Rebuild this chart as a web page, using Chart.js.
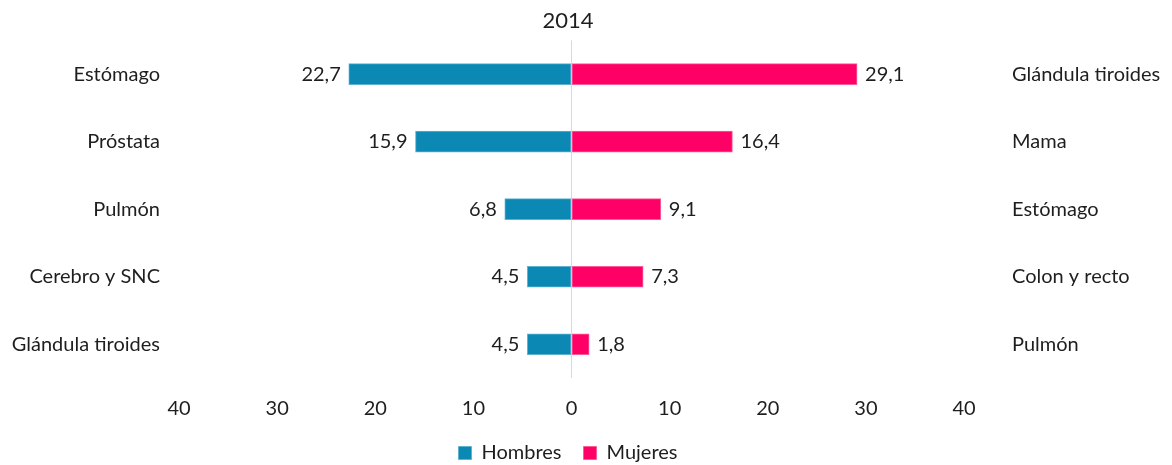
<!DOCTYPE html>
<html>
<head>
<meta charset="utf-8">
<script src="https://cdn.jsdelivr.net/npm/chart.js@4/dist/chart.umd.min.js"></script>
<style>
	html, body { margin: 0; padding: 0; background: #fff; }
	#wrapper { width: 1172px; height: 465px; }
</style>
</head>
<body>
<div id="wrapper"><canvas id="chart-cancer"></canvas></div>
<script>
const lsLabelHombres = ["Estómago", "Próstata", "Pulmón", "Cerebro y SNC", "Glándula tiroides"];
const lsLabelMujeres = ["Glándula tiroides", "Mama", "Estómago", "Colon y recto", "Pulmón"];
const lsHombres = [22.7, 15.9, 6.8, 4.5, 4.5];
const lsMujeres = [29.1, 16.4, 9.1, 7.3, 1.8];
const lsTicks = [-40, -30, -20, -10, 0, 10, 20, 30, 40];

const colorHombres = "#0b88b3";
const colorMujeres = "#ff0066";
const textColor = "#1e1e1e";
const fontFamily = "Lato, 'Noto Sans', sans-serif";

Chart.defaults.font.family = fontFamily;
Chart.defaults.color = textColor;

// value labels at the end of each bar
const valueLabels = {
	id: "valueLabels",
	afterDatasetsDraw(chart) {
		let ctx = chart.ctx;
		ctx.save();
		ctx.font = "20px " + fontFamily;
		ctx.fillStyle = textColor;
		ctx.textBaseline = "middle";
		chart.data.datasets.forEach((ds, i) => {
			let meta = chart.getDatasetMeta(i);
			meta.data.forEach((bar, idx) => {
				let v = ds.data[idx];
				let txt = Math.abs(v).toFixed(1).replace(".", ",");
				if (v < 0) {
					ctx.textAlign = "right";
					ctx.fillText(txt, bar.x - 8, bar.y);
				} else {
					ctx.textAlign = "left";
					ctx.fillText(txt, bar.x + 8, bar.y);
				}
			});
		});
		ctx.restore();
	},
};

let ctx = document.getElementById("chart-cancer").getContext("2d");

new Chart(ctx, {
	type: "bar",
	data: {
		labels: lsLabelHombres,
		datasets: [
			{
				label: "Hombres",
				data: lsHombres.map((v) => -v),
				backgroundColor: colorHombres,
				borderColor: "#5fb3d1",
				borderWidth: 1,
				borderSkipped: false,
				yAxisID: "y",
				barThickness: 21,
				grouped: false,
			},
			{
				label: "Mujeres",
				data: lsMujeres,
				backgroundColor: colorMujeres,
				borderColor: "#ff5c97",
				borderWidth: 1,
				borderSkipped: false,
				yAxisID: "y2",
				barThickness: 21,
				grouped: false,
			},
		],
	},
	options: {
		indexAxis: "y",
		responsive: true,
		maintainAspectRatio: false,
		animation: false,
		layout: {
			// negative left padding moves title/legend centre over the plot area
			padding: { top: 0, bottom: -8, left: -36, right: 0 },
		},
		scales: {
			x: {
				min: -40,
				max: 40,
				afterBuildTicks: (axis) => {
					axis.ticks = lsTicks.map((v) => ({ value: v }));
				},
				afterFit: (axis) => {
					axis.height = 43;
				},
				grid: {
					drawTicks: false,
					lineWidth: 1,
					color: (c) => (c.tick && c.tick.value === 0 ? "#d9d9d9" : "rgba(0,0,0,0)"),
				},
				border: { display: false },
				ticks: {
					padding: 19,
					font: { size: 20 },
					color: textColor,
					callback: (v) => Math.abs(v),
				},
			},
			y: {
				type: "category",
				position: "left",
				grid: { display: false, drawTicks: false },
				border: { display: false },
				ticks: { padding: 19, font: { size: 20 }, color: textColor },
				afterFit: (axis) => {
					axis.width = 215;
					axis.paddingTop = 0;
					axis.paddingBottom = 0;
				},
			},
			y2: {
				type: "category",
				position: "right",
				labels: lsLabelMujeres,
				grid: { display: false, drawTicks: false },
				border: { display: false },
				ticks: { padding: 48, font: { size: 20 }, color: textColor },
				afterFit: (axis) => {
					axis.width = 208;
					axis.paddingTop = 0;
					axis.paddingBottom = 0;
				},
			},
		},
		plugins: {
			title: {
				display: true,
				text: "2014",
				color: textColor,
				font: { size: 22, weight: "normal" },
				padding: { top: 8, bottom: 6 },
			},
			legend: {
				display: true,
				position: "bottom",
				labels: {
					boxWidth: 13,
					boxHeight: 13,
					padding: 22,
					color: textColor,
					font: { size: 20 },
				},
			},
			tooltip: { enabled: false },
		},
	},
	plugins: [valueLabels],
});
</script>
</body>
</html>
